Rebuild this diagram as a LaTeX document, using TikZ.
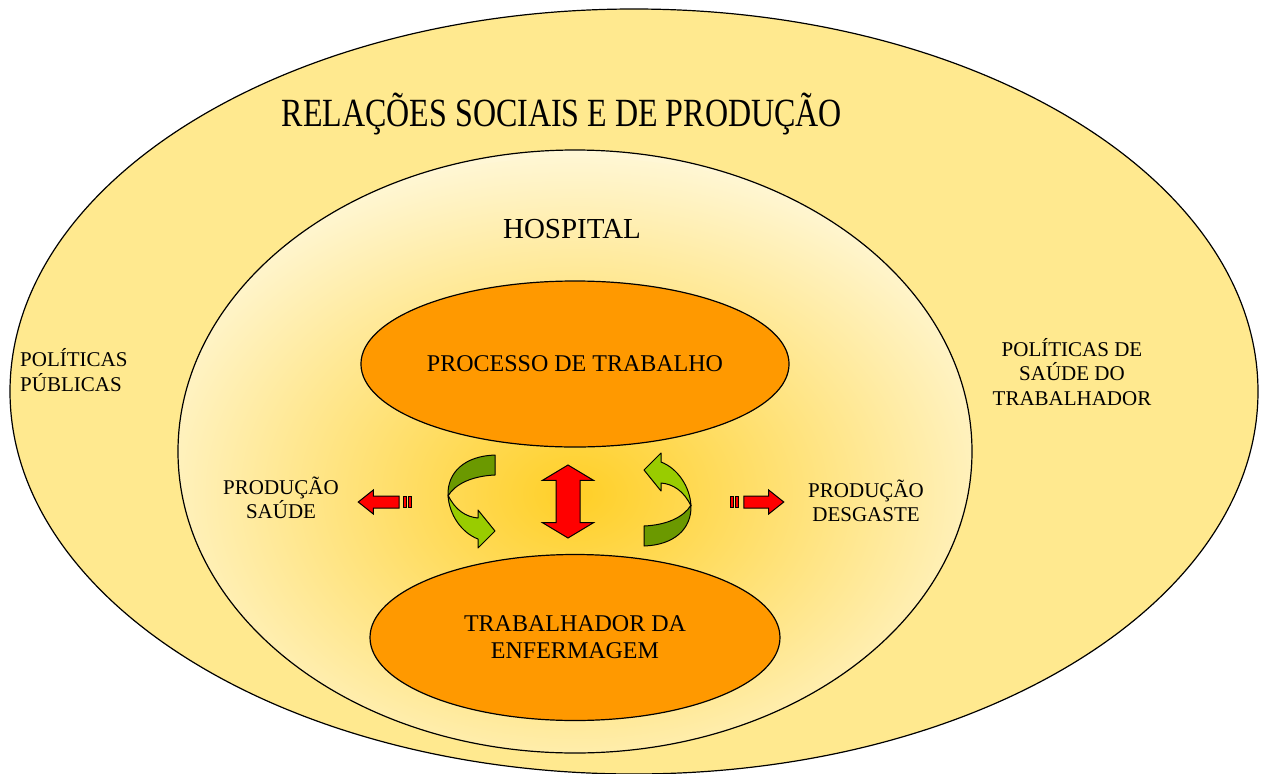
\documentclass[tikz,border=0pt]{standalone}
\usepackage{xcolor}
\usepackage{fontspec}
\setmainfont{Liberation Serif}
\usetikzlibrary{shapes}

\definecolor{fieldyellow}{HTML}{FFE98F}
\definecolor{hospcream}{HTML}{FFF7D6}
\definecolor{glowyellow}{HTML}{FFCF26}
\definecolor{coreorange}{HTML}{FF9900}
\definecolor{turnlight}{HTML}{99CC00}
\definecolor{turndark}{HTML}{6B9900}

\begin{document}
\begin{tikzpicture}[x=1pt, y=-1pt,
    field/.style={ellipse, draw, line width=1.2pt, inner sep=0pt},
    core/.style={ellipse, draw, line width=1.2pt, fill=coreorange, minimum width=410pt, minimum height=166pt, align=center, font=\fontsize{24}{27}\selectfont},
    tag/.style={align=center, inner sep=0pt, font=\fontsize{21}{24.5}\selectfont},
    redarrow/.style={draw, line width=1pt, fill=red, inner sep=0pt},
    turn/.style={draw, line width=1pt, line join=round}]

    \useasboundingbox (0,0) rectangle (1262,774);

    % Outer field
    \node[field, fill=fieldyellow, minimum width=1248pt, minimum height=765pt] (relacoes) at (634,391.5) {};

    % Hospital with glow
    \node[field, fill=hospcream, minimum width=794pt, minimum height=603pt,
        path picture={\shade[inner color=glowyellow, outer color=hospcream]
            ([yshift=-46pt]path picture bounding box.center) ellipse [x radius=470, y radius=340];}]
        (hospital) at (575,451.5) {};

    % Core ellipses
    \node[core] (processo) at (575,364) {PROCESSO DE TRABALHO};
    \node[core] (trabalhador) at (575,637.5) {TRABALHADOR DA\\ENFERMAGEM};

    % Red arrows
    \node[redarrow, double arrow, rotate=90, inner ysep=11.5pt, minimum height=73pt,
        double arrow head extend=13.5pt, double arrow tip angle=118] (mutuo) at (568,501.5) {};
    \node[redarrow, single arrow, rotate=180, inner ysep=5.5pt, minimum height=41pt,
        single arrow head extend=6pt, single arrow tip angle=77] (parasaude) at (382.5,502) {};
    \draw[redarrow] (403.5,496.5) rectangle (406,507.5);
    \draw[redarrow] (408.5,496.5) rectangle (411.5,507.5);
    \node[redarrow, single arrow, inner ysep=5.5pt, minimum height=40pt,
        single arrow head extend=6pt, single arrow tip angle=77] (paradesgaste) at (760,502) {};
    \draw[redarrow] (730,496.5) rectangle (733,507.5);
    \draw[redarrow] (735.5,496.5) rectangle (738,507.5);

    % Green turns
    \draw[turn, fill=turndark] (495,455) .. controls (465,456) and (447,472) .. (448,496)
        .. controls (455,484) and (472,476) .. (495,475) -- cycle;
    \draw[turn, fill=turnlight] (448,495) .. controls (449,515) and (462,533) .. (478,539)
        -- (478,548) -- (495,531) -- (478,510) -- (478,518)
        .. controls (466,517) and (455,510) .. (448,495) -- cycle;
    \begin{scope}[rotate around={180:(569.5,500.5)}]
        \draw[turn, fill=turndark] (495,455) .. controls (465,456) and (447,472) .. (448,496)
            .. controls (455,484) and (472,476) .. (495,475) -- cycle;
        \draw[turn, fill=turnlight] (448,495) .. controls (449,515) and (462,533) .. (478,539)
            -- (478,548) -- (495,531) -- (478,510) -- (478,518)
            .. controls (466,517) and (455,510) .. (448,495) -- cycle;
    \end{scope}

    % Labels
    \node[inner sep=0pt, anchor=base] (titulo) at (562,126)
        {\fontsize{32}{38}\selectfont\scalebox{1}[1.25]{RELAÇÕES SOCIAIS E DE PRODUÇÃO}};
    \node[inner sep=0pt, anchor=base, font=\fontsize{29}{34}\selectfont] (hosptag) at (572,238) {HOSPITAL};
    \node[tag, align=left, anchor=west] (publicas) at (20,370) {POLÍTICAS\\PÚBLICAS};
    \node[tag] (saudetrab) at (1072,372) {POLÍTICAS DE\\SAÚDE DO\\TRABALHADOR};
    \node[tag] (prodsaude) at (281,498) {PRODUÇÃO\\SAÚDE};
    \node[tag] (proddesg) at (866,501) {PRODUÇÃO\\DESGASTE};
\end{tikzpicture}
\end{document}
